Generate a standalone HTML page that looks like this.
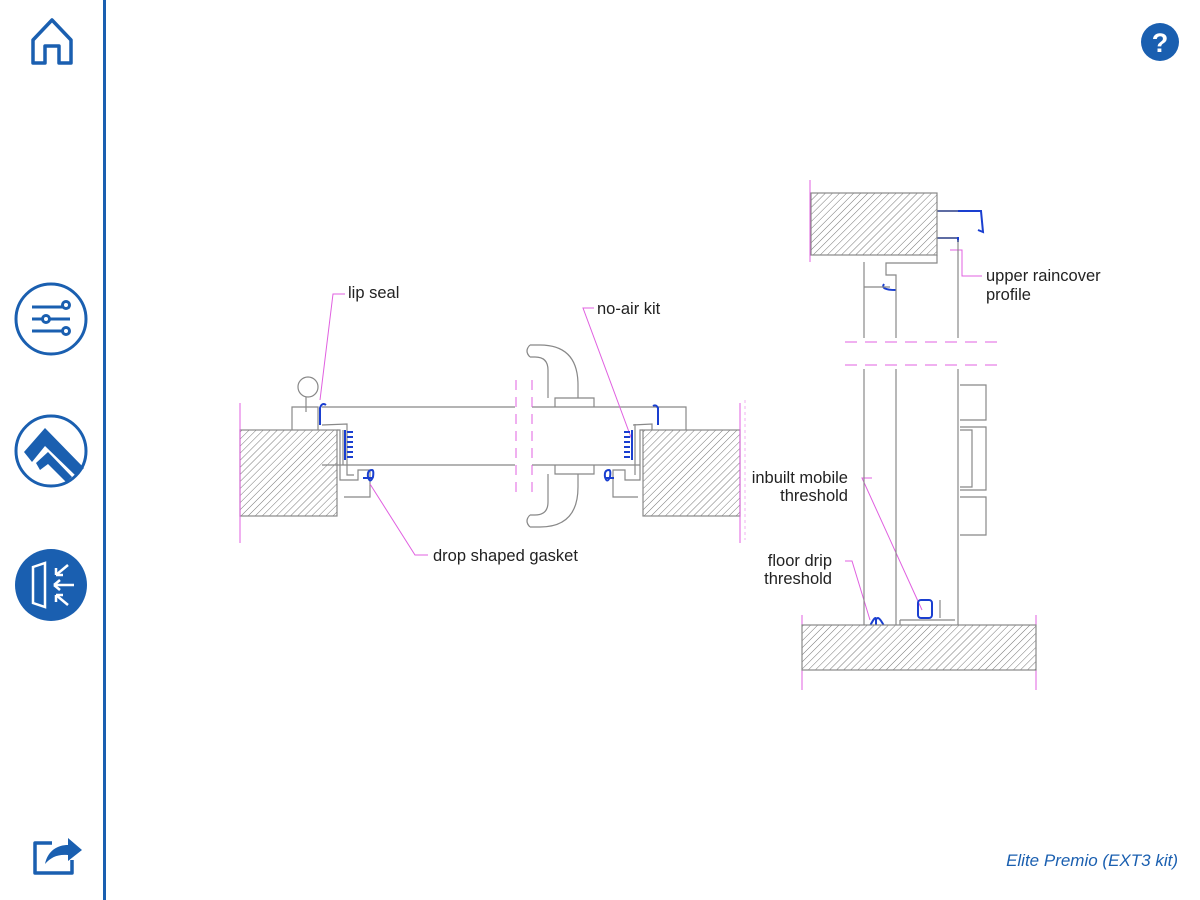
<!DOCTYPE html>
<html><head><meta charset="utf-8"><style>
html,body{margin:0;padding:0;background:#fff;}
body{width:1200px;height:900px;overflow:hidden;position:relative;font-family:"Liberation Sans",sans-serif;}
</style></head><body>
<svg width="1200" height="900" viewBox="0 0 1200 900" xmlns="http://www.w3.org/2000/svg" style="position:absolute;left:0;top:0">
<defs>
<pattern id="h" patternUnits="userSpaceOnUse" width="5" height="5" patternTransform="rotate(45)">
<rect width="5" height="5" fill="#fff"/><line x1="0" y1="0" x2="0" y2="5" stroke="#777" stroke-width="1"/>
</pattern>
</defs>
<line x1="104.5" y1="0" x2="104.5" y2="900" stroke="#1a5fb0" stroke-width="3"/>
<path d="M33 40 L52 20 L71 40 L71 63 L59 63 L59 46 L45 46 L45 63 L33 63 Z" fill="none" stroke="#1a5fb0" stroke-width="3.5" stroke-linejoin="round"/>
<circle cx="51" cy="319" r="35" fill="none" stroke="#1a5fb0" stroke-width="3"/>
<g stroke="#1a5fb0" stroke-width="3" fill="#fff">
<line x1="32" y1="307" x2="70" y2="307"/><line x1="32" y1="319" x2="70" y2="319"/><line x1="32" y1="331" x2="70" y2="331"/>
<circle cx="66" cy="305" r="3.5"/><circle cx="46" cy="319" r="3.5"/><circle cx="66" cy="331" r="3.5"/>
</g>
<circle cx="51" cy="451" r="35" fill="none" stroke="#1a5fb0" stroke-width="3"/>
<path d="M24 452 L45 428 L84 468 L76 476 L45 446 L32 462 Z" fill="#1a5fb0"/>
<path d="M36 463 L48 452 L72 477 L66 482 L48 464 L40 470 Z" fill="#1a5fb0"/>
<circle cx="51" cy="585" r="36" fill="#1a5fb0"/>
<g stroke="#fff" stroke-width="2.5" fill="none">
<path d="M33 567 L45 563 L45 607 L33 603 Z"/>
<line x1="56" y1="575" x2="68" y2="565"/><path d="M56 575 L56 568 M56 575 L63 575"/>
<line x1="54" y1="585" x2="74" y2="585"/><path d="M54 585 L60 580 M54 585 L60 590"/>
<line x1="56" y1="595" x2="68" y2="605"/><path d="M56 595 L56 602 M56 595 L63 595"/>
</g>
<path d="M52 843 L35 843 L35 873 L72 873 L72 860" fill="none" stroke="#1a5fb0" stroke-width="3.5" stroke-linejoin="round"/>
<path d="M45 864 C48 850 58 845 68 845 L68 838 L82 850 L68 861 L68 855 C58 854 51 857 45 864 Z" fill="#1a5fb0"/>
<circle cx="1160" cy="42" r="19" fill="#1a5fb0"/>
<text x="1160" y="52" text-anchor="middle" font-size="27" font-weight="bold" fill="#fff" font-family="Liberation Sans, sans-serif">?</text>
<text x="1178" y="866" text-anchor="end" font-size="17" font-style="italic" fill="#1a5fb0">Elite Premio (EXT3 kit)</text>

<g stroke="#888" stroke-width="1.2" fill="none">
<rect x="240" y="430" width="97" height="86" fill="url(#h)"/>
<rect x="643" y="430" width="97" height="86" fill="url(#h)"/>
<path d="M322 407 L515 407 M322 465 L515 465 M532 407 L655 407 M532 465 L640 465"/>
<path d="M343 430 L343 465"/>
<path d="M292 430 L292 407 L318 407 L318 430"/>
<path d="M322 425 L347 424 L347 475 L354 475"/>
<path d="M337 430 L340 430 L340 480 L358 480 L358 470 L370 470 L370 497 L344 497"/>
<circle cx="308" cy="387" r="10"/>
<line x1="306" y1="397" x2="306" y2="412"/>
<path d="M655 407 L686 407 L686 430"/>
<path d="M633 425 L652 424 L652 430 M635 424 L635 475"/>
<path d="M643 430 L640 430 L640 480 L625 480 L625 470 L613 470 L613 497 L638 497"/>
<path d="M555 407 L555 398 L594 398 L594 407"/>
<path d="M555 465 L555 474 L594 474 L594 465"/>
<path d="M548 398 L548 370 Q548 357 535 357 L530 357 M530 345 L540 345 Q578 345 578 385 L578 398"/>
<path d="M530 345 Q524 351 530 357"/>
<path d="M548 474 L548 502 Q548 515 535 515 L530 515 M530 527 L540 527 Q578 527 578 487 L578 474"/>
<path d="M530 515 Q524 521 530 527"/>
</g>
<g stroke="#e060e0" stroke-width="1" fill="none">
<line x1="240" y1="403" x2="240" y2="543"/><line x1="740" y1="403" x2="740" y2="543"/>
<line x1="516" y1="380" x2="516" y2="495" stroke-dasharray="10 7"/>
<line x1="532" y1="380" x2="532" y2="495" stroke-dasharray="10 7"/>
<path d="M345 294 L333 294 L320 400"/>
<path d="M428 555 L415 555 L370 484"/>
<path d="M594 308 L583 308 L632 440"/>
<path d="M872 478 L862 478 L922 610"/>
<path d="M845 561 L852 561 L870 620"/>
<path d="M950 250 L962 250 L962 276 L982 276"/>
<line x1="810" y1="180" x2="810" y2="262"/>
<line x1="802" y1="615" x2="802" y2="690"/><line x1="1036" y1="615" x2="1036" y2="690"/>
<line x1="745" y1="400" x2="745" y2="540" stroke-dasharray="3 3" stroke="#f0b0f0"/>
<line x1="845" y1="342" x2="1000" y2="342" stroke-dasharray="12 8"/>
<line x1="845" y1="365" x2="1000" y2="365" stroke-dasharray="12 8"/>
</g>
<g stroke="#1a3fd0" stroke-width="2" fill="none">
<path d="M320 425 L320 408 Q322 402 326 405"/>
<path d="M347 432 L353 432 M347 437 L353 437 M347 442 L353 442 M347 447 L353 447 M347 452 L353 452 M347 457 L353 457 M345 430 L345 460"/>
<path d="M372 470 Q367 470 368 477 Q370 484 373 477 Q374 470 372 470 M363 478 L373 478"/>
<path d="M658 425 L658 408 Q656 404 653 406"/>
<path d="M630 432 L624 432 M630 437 L624 437 M630 442 L624 442 M630 447 L624 447 M630 452 L624 452 M630 457 L624 457 M632 430 L632 460"/>
<path d="M609 470 Q604 470 605 477 Q607 484 610 477 Q611 470 609 470 M606 478 L614 478"/>
<path d="M937 211 L968 211 L981 211 L983 232 L978 230 M956 211 L962 211"/>
<path d="M937 238 L958 238 L958 242"/>
<path d="M884 284 Q880 290 896 290"/>
<path d="M876 620 Q876 614 870 626 M876 620 Q878 614 884 626 M876 620 L876 640"/>
<rect x="918" y="600" width="14" height="18" rx="3"/>
</g>
<g stroke="#888" stroke-width="1.2" fill="none">
<rect x="811" y="193" width="126" height="62" fill="url(#h)"/>
<rect x="802" y="625" width="234" height="45" fill="url(#h)"/>
<path d="M864 262 L864 338 M864 369 L864 625"/>
<path d="M896 295 L896 338 M896 369 L896 625"/>
<path d="M958 240 L958 338 M958 369 L958 625"/>
<path d="M937 255 L937 263 L886 263 L886 275 L896 275 L896 295 M864 287 L890 287"/>
<path d="M937 211 L958 211 M937 238 L957 238"/>
<path d="M900 620 L955 620 M900 620 L900 625 M940 600 L940 618"/>
<path d="M960 385 L986 385 L986 420 L960 420 M960 427 L986 427 L986 490 L960 490 M960 497 L986 497 L986 535 L960 535"/>
<path d="M960 430 L972 430 L972 487 L960 487"/>
</g>
<g font-size="16.5" fill="#222">
<text x="348" y="298">lip seal</text>
<text x="597" y="314">no-air kit</text>
<text x="433" y="561">drop shaped gasket</text>
<text x="986" y="281">upper raincover</text>
<text x="986" y="300">profile</text>
<text x="848" y="483" text-anchor="end">inbuilt mobile</text>
<text x="848" y="501" text-anchor="end">threshold</text>
<text x="832" y="566" text-anchor="end">floor drip</text>
<text x="832" y="584" text-anchor="end">threshold</text>
</g>
</svg>
</body></html>
